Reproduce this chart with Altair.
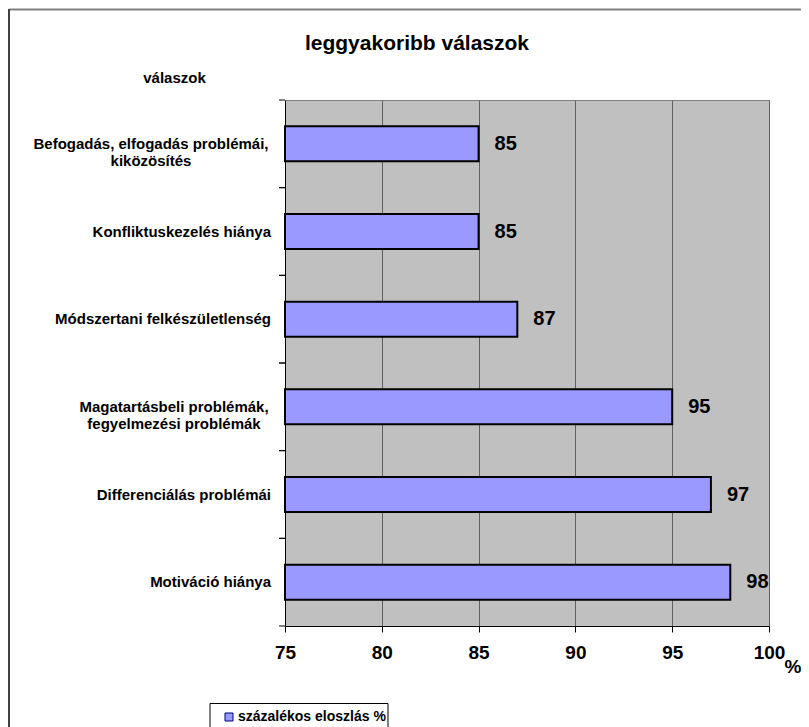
import altair as alt
import pandas as pd

categories = [
    "Befogadás, elfogadás problémái,\nkiközösítés",
    "Konfliktuskezelés hiánya",
    "Módszertani felkészületlenség",
    "Magatartásbeli problémák,\nfegyelmezési problémák",
    "Differenciálás problémái",
    "Motiváció hiánya",
]
values = [85, 85, 87, 95, 97, 98]
series_name = "százalékos eloszlás %"
x_ticks = [75, 80, 85, 90, 95, 100]
title_text = "leggyakoribb válaszok"
y_title = "válaszok"
x_unit = "%"

df = pd.DataFrame({"cat": categories, "value": values, "series": [series_name] * len(values)})
one = pd.DataFrame({"label": [title_text]})

FONT = "Liberation Sans"
W, H = 484, 526
HALF_STEP = H / len(categories) / 2

ysc = alt.Scale(domain=categories, paddingInner=0.6, paddingOuter=0.3)
xsc = alt.Scale(domain=[75, 100], nice=False, zero=False)

# outer frame lines
frame_top = alt.Chart(one).mark_rule(color="#808080", strokeWidth=2).encode(
    x=alt.value(-276), x2=alt.value(600), y=alt.value(-90.5)
)
frame_left = alt.Chart(one).mark_rule(color="#404040", strokeWidth=2).encode(
    x=alt.value(-276), y=alt.value(-91), y2=alt.value(700)
)
legend_box = alt.Chart(one).mark_rect(fill="white", stroke="black", strokeWidth=1).encode(
    x=alt.value(-75), x2=alt.value(103), y=alt.value(603.5), y2=alt.value(660)
)
title_mark = alt.Chart(one).mark_text(
    align="center", baseline="alphabetic", font=FONT, fontSize=21, fontWeight="bold", color="black"
).encode(
    x=alt.value(132), y=alt.value(-50), text=alt.Text("label:N")
)

bars = alt.Chart(df).mark_bar(stroke="black", strokeWidth=2).encode(
    y=alt.Y(
        "cat:N", scale=ysc, sort=None,
        axis=alt.Axis(
            labels=False, ticks=False, grid=False, domainColor="black", domainWidth=1,
            title=y_title, titleAngle=0, titleAlign="center", titleBaseline="alphabetic",
            titleX=-111, titleY=-18, titleFont=FONT, titleFontSize=15,
            titleFontWeight="bold", titleColor="black",
        ),
    ),
    x=alt.X(
        "value:Q", scale=xsc,
        axis=alt.Axis(
            values=x_ticks, grid=True, gridColor="#606060", gridWidth=1,
            domainColor="black", domainWidth=1, tickColor="black", tickSize=6,
            labelFont=FONT, labelFontSize=19, labelFontWeight="bold", labelColor="black",
            labelPadding=11, labelFlush=False,
            title=x_unit, titleX=499, titleY=46, titleAlign="left", titleBaseline="alphabetic",
            titleFont=FONT, titleFontSize=19, titleFontWeight="bold", titleColor="black",
        ),
    ),
    x2=alt.datum(75),
    color=alt.Color(
        "series:N", scale=alt.Scale(range=["#9999FF"]),
        legend=alt.Legend(
            orient="none", legendX=-63, legendY=610, title=None, padding=0,
            symbolType="square", symbolSize=64, symbolStrokeColor="#000080",
            symbolStrokeWidth=1, symbolFillColor="#9999FF", labelOffset=2,
            labelFont=FONT, labelFontSize=14, labelFontWeight="bold", labelColor="black",
        ),
    ),
)

value_labels = alt.Chart(df).mark_text(
    align="left", baseline="middle", dx=16, font=FONT, fontSize=20, fontWeight="bold", color="black"
).encode(
    y=alt.Y("cat:N", scale=ysc, sort=None),
    x=alt.X("value:Q", scale=xsc),
    text=alt.Text("value:Q"),
)

cat_labels = alt.Chart(df).mark_text(
    align=alt.expr("indexof(datum.cat, '\\n') >= 0 ? 'center' : 'right'"),
    dx=alt.expr("indexof(datum.cat, 'Befogad') == 0 ? -120 : (indexof(datum.cat, 'Magatart') == 0 ? -97 : 0)"),
    baseline="middle", lineBreak="\n", lineHeight=17,
    font=FONT, fontSize=15, fontWeight="bold", color="black",
).encode(
    y=alt.Y("cat:N", scale=ysc, sort=None),
    x=alt.value(-14),
    text=alt.Text("cat:N"),
)

ticks_top = alt.Chart(df).mark_rule(color="black", strokeWidth=1, yOffset=-HALF_STEP).encode(
    y=alt.Y("cat:N", scale=ysc, sort=None),
    x=alt.value(-6), x2=alt.value(0),
)
ticks_bottom = alt.Chart(df).mark_rule(color="black", strokeWidth=1, yOffset=HALF_STEP).encode(
    y=alt.Y("cat:N", scale=ysc, sort=None),
    x=alt.value(-6), x2=alt.value(0),
)

chart = alt.layer(
    frame_top, frame_left, legend_box, title_mark, bars, value_labels, cat_labels, ticks_top, ticks_bottom
).properties(
    width=W, height=H,
    background="white",
    autosize=alt.AutoSizeParams(type="none"),
    padding={"left": 277, "top": 92, "right": 32, "bottom": 101},
).configure_view(
    fill="#C0C0C0", stroke="#808080", strokeWidth=1
)

chart.save("out.html", embed_options={"renderer": "svg", "actions": False})
